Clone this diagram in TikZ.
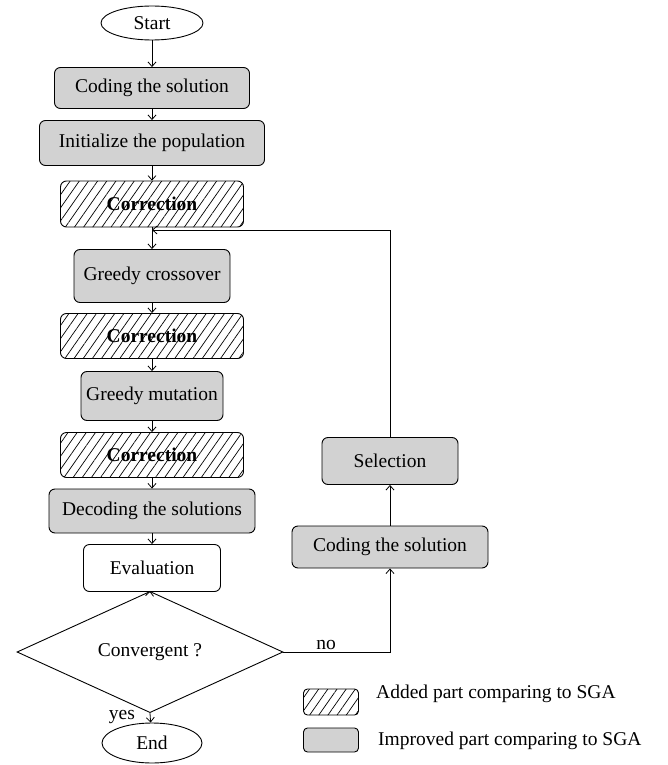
\documentclass[tikz,border=0pt]{standalone}
\usepackage{fontspec}
\setmainfont{Liberation Serif}
\usetikzlibrary{arrows.meta,positioning,shapes.geometric,patterns.meta}
\definecolor{faGray}{HTML}{D2D2D2}
\newcommand{\figfont}{\fontsize{19.5}{23}\selectfont}
\tikzset{
  arr/.style={-{Straight Barb[length=4.5pt,width=8pt]}, line width=0.8pt},
  basebox/.style={rounded corners=6pt, draw, line width=0.9pt, align=center, inner sep=3pt, font=\figfont},
  graybox/.style={basebox, fill=faGray},
  hatchbox/.style={basebox, pattern={Lines[angle=55,distance=7.5pt,line width=0.7pt]}, font=\figfont\bfseries},
  plainbox/.style={basebox, fill=white},
  termin/.style={ellipse, draw, line width=0.9pt, inner sep=0pt, font=\figfont},
  decision/.style={diamond, draw, line width=0.9pt, inner sep=0pt, font=\figfont},
  lbl/.style={inner sep=1pt, font=\figfont}
}
\begin{document}
\begin{tikzpicture}[x=1pt,y=-1pt]
  \useasboundingbox (0,0) rectangle (667,765);
  % main column
  \node[termin, minimum width=102pt, minimum height=34pt] (start) at (152,23) {Start};
  \node[graybox, minimum width=195pt, minimum height=41pt] (code) at (152,88) {Coding the solution};
  \node[graybox, minimum width=225pt, minimum height=45pt] (init) at (152,143) {Initialize the population};
  \node[hatchbox, minimum width=183pt, minimum height=46pt] (corr1) at (152,204) {Correction};
  \coordinate (loop) at (152,230);
  \node[graybox, minimum width=156pt, minimum height=53pt] (cross) at (152,276) {Greedy crossover};
  \node[hatchbox, minimum width=183pt, minimum height=45pt] (corr2) at (152,336) {Correction};
  \node[graybox, minimum width=142pt, minimum height=49pt] (mut) at (152,396) {Greedy mutation};
  \node[hatchbox, minimum width=183pt, minimum height=45pt] (corr3) at (152,455) {Correction};
  \node[graybox, minimum width=206pt, minimum height=44pt] (decode) at (152,511) {Decoding the solutions};
  \node[plainbox, minimum width=137pt, minimum height=47pt] (eval) at (152,568) {Evaluation};
  \node[decision, minimum width=266pt, minimum height=87pt] (conv) at (150,652) {Convergent ?};
  \node[termin, minimum width=100pt, minimum height=40pt] (finish) at (152,743) {End};
  % return branch
  \node[graybox, minimum width=196pt, minimum height=42pt] (rcode) at (390,547) {Coding the solution};
  \node[graybox, minimum width=136pt, minimum height=47pt] (sel) at (390,461) {Selection};
  \draw[arr] (start) -- (code);
  \draw[arr] (code) -- (init);
  \draw[arr] (init) -- (corr1);
  \draw[arr] (corr1) -- (cross);
  \draw[arr] (cross) -- (corr2);
  \draw[arr] (corr2) -- (mut);
  \draw[arr] (mut) -- (corr3);
  \draw[arr] (corr3) -- (decode);
  \draw[arr] (decode) -- (eval);
  \draw[arr] (eval) -- (conv.north);
  \draw[arr] (conv.south) -- node[lbl, left=14pt, pos=0.4] (yes) {yes} (finish);
  \draw[arr] (conv.east) -| node[lbl, above=1pt, pos=0.2] (no) {no} (rcode.south);
  \draw[arr] (rcode) -- (sel);
  \draw[arr] (sel.north) |- (loop);
  % legend
  \node[hatchbox, rounded corners=4pt, minimum width=55pt, minimum height=26pt, inner sep=0pt] (keyadd) at (331,702) {};
  \node[graybox, rounded corners=4pt, minimum width=55pt, minimum height=24pt, inner sep=0pt] (keyimp) at (331,740) {};
  \node[lbl, anchor=west] (addtxt) at (375,694) {Added part comparing to SGA};
  \node[lbl, anchor=west] (imptxt) at (377,741) {Improved part comparing to SGA};
\end{tikzpicture}
\end{document}
